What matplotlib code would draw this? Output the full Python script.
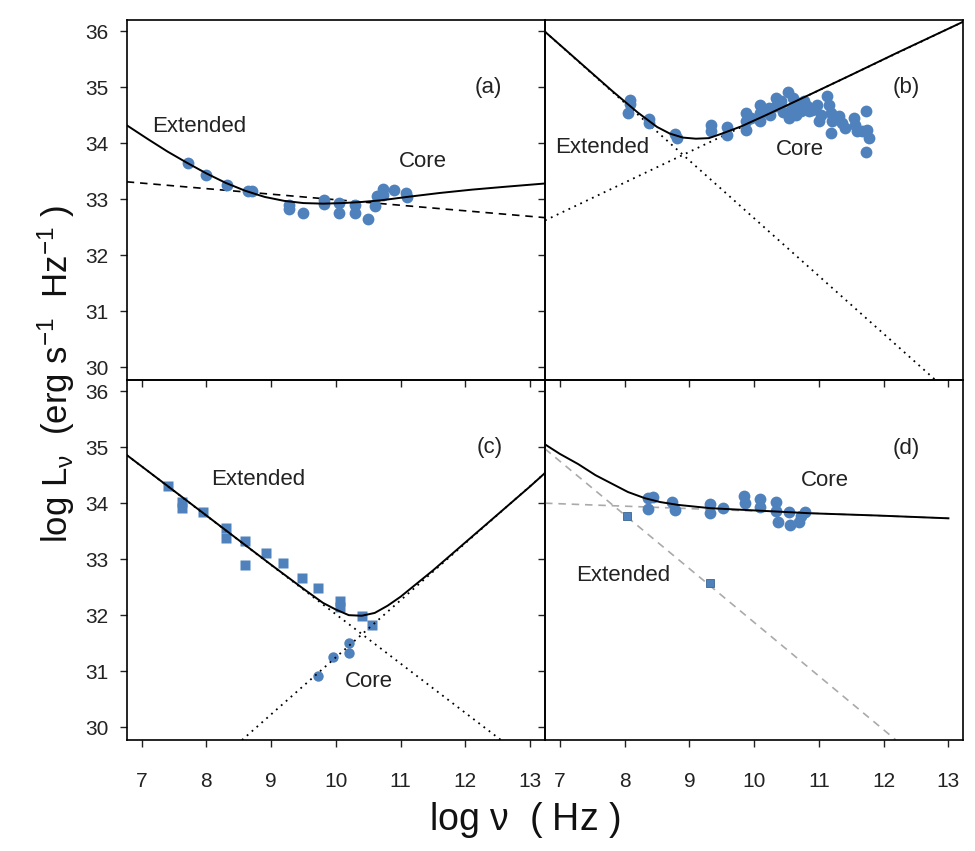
import matplotlib
matplotlib.use('Agg')
import matplotlib.pyplot as plt

plt.rcParams['font.family'] = ['Liberation Sans', 'DejaVu Sans']
plt.rcParams['mathtext.fontset'] = 'custom'
plt.rcParams['mathtext.rm'] = 'Liberation Sans'
plt.rcParams['mathtext.it'] = 'Liberation Sans'
plt.rcParams['mathtext.default'] = 'regular'

BLUE = '#4f81bd'
GREY = '#aaaaaa'

XTICKS = [7, 8, 9, 10, 11, 12, 13]
YTICKS = [30, 31, 32, 33, 34, 35, 36]
XLIM = (6.77, 13.23)
YLIM = (29.77, 36.2)

# ---- panel (a) ----
a_pts_x = [7.72, 8.00, 8.32, 8.65, 8.71, 9.27, 9.27, 9.49, 9.82, 9.82, 10.05,
           10.05, 10.30, 10.30, 10.50, 10.60, 10.63, 10.73, 10.73, 10.90, 11.09, 11.10]
a_pts_y = [33.65, 33.43, 33.25, 33.14, 33.14, 32.89, 32.82, 32.75, 32.98, 32.92, 32.94,
           32.75, 32.90, 32.75, 32.65, 32.88, 33.05, 33.19, 33.07, 33.16, 33.11, 33.04]
a_fit_x = [6.77, 7.1, 7.4, 7.7, 8.0, 8.3, 8.6, 8.9, 9.2, 9.5, 9.8, 10.1, 10.4,
           10.7, 11.1, 11.6, 12.1, 12.6, 13.23]
a_fit_y = [34.32, 34.07, 33.85, 33.65, 33.46, 33.29, 33.15, 33.04, 32.97, 32.93, 32.92,
           32.93, 32.95, 32.98, 33.04, 33.11, 33.17, 33.22, 33.28]
a_dash_x = [6.77, 13.23]
a_dash_y = [33.31, 32.67]

# ---- panel (b) ----
b_pts_x = [8.09, 8.09, 8.05, 8.38, 8.38, 8.77, 8.81, 9.33, 9.33, 9.58, 9.58,
           9.87, 9.87, 9.87, 10.09, 10.09, 10.09, 10.23, 10.33, 10.33, 10.41, 10.53,
           10.54, 10.59, 10.67, 10.72, 10.77, 10.82, 10.85, 10.97, 11.03, 11.13, 11.15,
           11.18, 11.18, 11.20, 11.31, 11.36, 11.41, 11.54, 11.56, 11.59, 11.72, 11.74,
           11.77, 11.72, 11.67, 10.45, 10.65, 10.90, 10.25, 9.95, 10.60, 11.00]
b_pts_y = [34.78, 34.70, 34.54, 34.44, 34.36, 34.16, 34.10, 34.32, 34.21, 34.28, 34.15,
           34.54, 34.39, 34.24, 34.69, 34.54, 34.39, 34.62, 34.80, 34.66, 34.75, 34.92,
           34.45, 34.62, 34.72, 34.57, 34.75, 34.66, 34.57, 34.69, 34.51, 34.85, 34.69,
           34.54, 34.18, 34.39, 34.48, 34.36, 34.27, 34.45, 34.33, 34.21, 34.57, 34.24,
           34.09, 33.84, 34.21, 34.55, 34.50, 34.60, 34.50, 34.45, 34.80, 34.40]
b_fit_x = [6.77, 7.3, 7.8, 8.2, 8.5, 8.7, 8.9, 9.1, 9.3, 9.5, 9.8, 10.2, 10.9,
           11.5, 12.2, 13.23]
b_fit_y = [35.99, 35.45, 34.94, 34.55, 34.29, 34.17, 34.10, 34.08, 34.09, 34.17, 34.30,
           34.51, 34.89, 35.22, 35.61, 36.17]
b_ext_x = [6.77, 12.8]
b_ext_y = [35.99, 29.77]
b_core_x = [6.77, 13.23]
b_core_y = [32.62, 36.17]

# ---- panel (c) ----
c_sq_x = [7.40, 7.62, 7.62, 7.95, 8.30, 8.30, 8.59, 8.59, 8.92, 9.19, 9.47, 9.73,
          10.07, 10.07, 10.40, 10.56]
c_sq_y = [34.30, 34.02, 33.91, 33.85, 33.55, 33.37, 33.32, 32.89, 33.11, 32.93, 32.67,
          32.49, 32.25, 32.15, 31.99, 31.83]
c_circ_x = [9.72, 9.96, 10.20, 10.21]
c_circ_y = [30.92, 31.25, 31.51, 31.32]
c_fit_x = [6.77, 7.5, 8.0, 8.5, 9.0, 9.5, 9.8, 10.0, 10.2, 10.4, 10.6, 10.8, 11.0,
           11.5, 12.0, 12.5, 13.0, 13.23]
c_fit_y = [34.86, 34.22, 33.78, 33.34, 32.90, 32.47, 32.22, 32.10, 32.00, 31.99, 32.04,
           32.17, 32.33, 32.80, 33.30, 33.80, 34.30, 34.54]
c_ext_x = [6.77, 12.55]
c_ext_y = [34.86, 29.77]
c_core_x = [8.55, 13.23]
c_core_y = [29.77, 34.54]

# ---- panel (d) ----
d_sq_x = [8.04, 9.32]
d_sq_y = [33.78, 32.57]
d_circ_x = [8.36, 8.44, 8.36, 8.73, 8.78, 9.32, 9.32, 9.52, 9.85, 9.86, 10.09, 10.09,
            10.34, 10.34, 10.37, 10.54, 10.55, 10.69, 10.72, 10.79]
d_circ_y = [34.09, 34.11, 33.90, 34.02, 33.88, 33.98, 33.82, 33.91, 34.13, 34.00, 34.08,
            33.94, 34.02, 33.86, 33.66, 33.84, 33.61, 33.66, 33.78, 33.84]
d_fit_x = [6.77, 7.0, 7.28, 7.55, 7.8, 8.05, 8.31, 8.55, 8.82, 9.33, 9.85, 10.87,
           11.9, 13.0]
d_fit_y = [35.05, 34.88, 34.70, 34.50, 34.35, 34.20, 34.09, 34.02, 33.97, 33.91, 33.88,
           33.82, 33.78, 33.73]
d_ext_x = [6.77, 12.19]
d_ext_y = [34.97, 29.77]
d_core_x = [6.77, 13.0]
d_core_y = [34.00, 33.73]

DOTTED = (0, (1, 2.6))
DASHED = (0, (4.5, 3.5))

fig = plt.figure(figsize=(9.75, 8.51), dpi=100)
gs = fig.add_gridspec(2, 2, left=0.130, right=0.988, top=0.9765, bottom=0.1304,
                      wspace=0, hspace=0)
ax_a = fig.add_subplot(gs[0, 0])
ax_b = fig.add_subplot(gs[0, 1])
ax_c = fig.add_subplot(gs[1, 0])
ax_d = fig.add_subplot(gs[1, 1])

for ax in (ax_a, ax_b, ax_c, ax_d):
    ax.set_xlim(*XLIM)
    ax.set_ylim(*YLIM)
    ax.set_xticks(XTICKS)
    ax.set_yticks(YTICKS)
    ax.patch.set_facecolor('none')
    ax.tick_params(direction='out', length=5, width=1, labelsize=15,
                   colors='#222222')
    ax.tick_params(axis='x', pad=18)
    ax.tick_params(axis='y', pad=8)
    for s in ax.spines.values():
        s.set_linewidth(1.2)

ax_a.tick_params(labelbottom=False)
ax_b.tick_params(labelbottom=False, labelleft=False)
ax_d.tick_params(labelleft=False)

# (a)
ax_a.plot(a_dash_x, a_dash_y, color='black', lw=1.2, ls=DASHED)
ax_a.plot(a_pts_x, a_pts_y, 'o', color=BLUE, ms=8.5, mec='none')
ax_a.plot(a_fit_x, a_fit_y, color='black', lw=1.4)

# (b)
ax_b.plot(b_ext_x, b_ext_y, color='black', lw=1.3, ls=DOTTED)
ax_b.plot(b_core_x, b_core_y, color='black', lw=1.3, ls=DOTTED)
ax_b.plot(b_pts_x, b_pts_y, 'o', color=BLUE, ms=8.5, mec='none')
ax_b.plot(b_fit_x, b_fit_y, color='black', lw=1.4)

# (c)
ax_c.plot(c_sq_x, c_sq_y, 's', color=BLUE, ms=7, mec='none')
ax_c.plot(c_circ_x, c_circ_y, 'o', color=BLUE, ms=7.5, mec='none')
ax_c.plot(c_ext_x, c_ext_y, color='black', lw=1.3, ls=DOTTED)
ax_c.plot(c_core_x, c_core_y, color='black', lw=1.3, ls=DOTTED)
ax_c.plot(c_fit_x, c_fit_y, color='black', lw=1.4)

# (d)
ax_d.plot(d_ext_x, d_ext_y, color=GREY, lw=1.2, ls=DASHED)
ax_d.plot(d_core_x, d_core_y, color=GREY, lw=1.2, ls=DASHED)
ax_d.plot(d_sq_x, d_sq_y, 's', color=BLUE, ms=6, mec='#3a6590', mew=0.6)
ax_d.plot(d_circ_x, d_circ_y, 'o', color=BLUE, ms=8.5, mec='none')
ax_d.plot(d_fit_x, d_fit_y, color='black', lw=1.4)

txt = dict(fontsize=16, color='#222222', ha='center', va='center')
ax_a.text(12.35, 35.0, '(a)', **txt)
ax_a.text(7.89, 34.30, 'Extended', **txt)
ax_a.text(11.35, 33.68, 'Core', **txt)
ax_b.text(12.35, 35.0, '(b)', **txt)
ax_b.text(7.65, 33.92, 'Extended', **txt)
ax_b.text(10.70, 33.89, 'Core', **txt)
ax_c.text(12.37, 35.0, '(c)', **txt)
ax_c.text(8.80, 34.43, 'Extended', **txt)
ax_c.text(10.51, 30.82, 'Core', **txt)
ax_d.text(12.35, 34.97, '(d)', **txt)
ax_d.text(11.09, 34.41, 'Core', **txt)
ax_d.text(7.97, 32.70, 'Extended', **txt)

fig.text(0.538, 0.036, r'log $\nu$  ( Hz )', fontsize=27, ha='center', va='center',
         color='#111111')
fig.text(0.058, 0.56, r'log L$_{\nu}$  (erg s$^{-1}$  Hz$^{-1}$ )', fontsize=25,
         rotation=90, ha='center', va='center', color='#111111')

fig.savefig('out.png', dpi=100, facecolor='white')
